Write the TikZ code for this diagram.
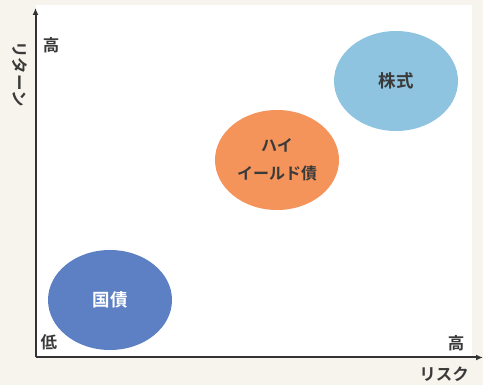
\documentclass[tikz,border=0pt]{standalone}
\usepackage{fontspec}
\newfontfamily\jp{Noto Sans CJK JP}[BoldFont={Noto Sans CJK JP Bold}]
\usetikzlibrary{shapes.geometric,arrows.meta}
\definecolor{cream}{HTML}{F6F4EC}
\definecolor{axis}{HTML}{333333}
\definecolor{stock}{HTML}{8EC4E0}
\definecolor{hy}{HTML}{F4935A}
\definecolor{jgb}{HTML}{5D80C4}
\definecolor{txt}{HTML}{3A3A3A}
\tikzset{
  bubble/.style={ellipse,minimum width=124pt,minimum height=100pt,inner sep=0pt,align=center,font=\jp\bfseries\fontsize{16}{28}\selectfont},
  lbl/.style={font=\jp\bfseries\fontsize{16.5}{18}\selectfont,text=txt,inner sep=0pt},
  axisline/.style={draw=axis,line width=2pt,-{Latex[length=7pt,width=6pt]}}
}
\begin{document}
\begin{tikzpicture}[x=1pt,y=-1pt]
\fill[cream] (0,0) rectangle (483,385);
\useasboundingbox (0,0) rectangle (483,385);
\fill[white] (36,5) rectangle (472,357);
\node[bubble,fill=stock,text=txt,font=\jp\bfseries\fontsize{17.5}{20}\selectfont] (kabu) at (396,81) {株式};
\node[bubble,fill=hy,text=txt] (hy) at (277,160) {ハイ\\イールド債};
\node[bubble,fill=jgb,text=white,font=\jp\bfseries\fontsize{17.5}{20}\selectfont] (kokusai) at (110,300) {国債};
\coordinate (o) at (35.5,357.5);
\coordinate (ytip) at (35.5,8);
\coordinate (xtip) at (483,357.5);
\draw[axisline] (o) -- (ytip);
\draw[axisline] (o) -- (xtip);
\node[lbl] (yhigh) at (51,45) {高};
\node[lbl] (ylow) at (49,342) {低};
\node[lbl] (xhigh) at (456,343) {高};
\node[lbl] (xlab) at (444,374) {リスク};
\node[lbl,rotate=-90] (ylab) at (20,74) {リターン};
\end{tikzpicture}
\end{document}
